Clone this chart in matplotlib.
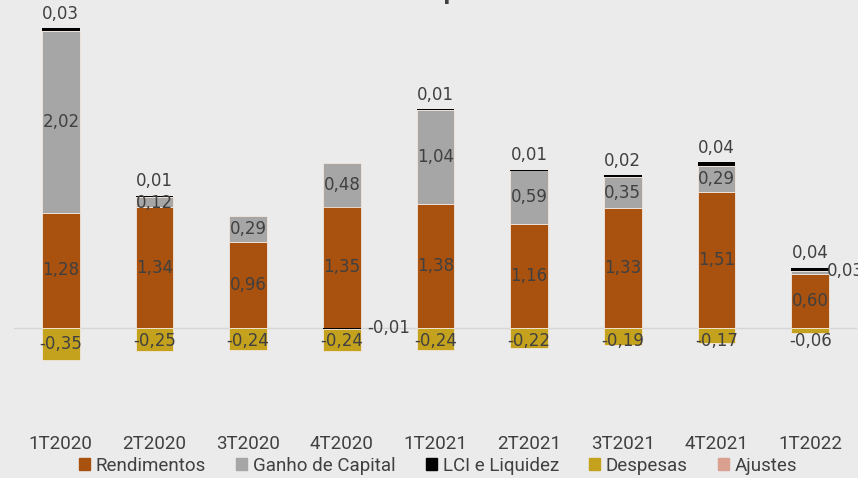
import matplotlib.pyplot as plt
from matplotlib.patches import Patch

quarters = ['1T2020', '2T2020', '3T2020', '4T2020', '1T2021', '2T2021', '3T2021', '4T2021', '1T2022']
rendimentos = [1.28, 1.34, 0.96, 1.35, 1.38, 1.16, 1.33, 1.51, 0.60]
ganho_capital = [2.02, 0.12, 0.29, 0.48, 1.04, 0.59, 0.35, 0.29, 0.03]
lci = [0.03, 0.01, 0.0, -0.01, 0.01, 0.01, 0.02, 0.04, 0.04]
despesas = [-0.35, -0.25, -0.24, -0.24, -0.24, -0.22, -0.19, -0.17, -0.06]
ajustes = [0, 0, 0, 0, 0, 0, 0, 0, 0]

c_rend = '#A9510F'
c_ganho = '#A6A6A6'
c_lci = '#000000'
c_desp = '#C4A21E'
c_ajus = '#D9A090'
bg = '#EBEBEB'
txt = '#404040'
plt.rcParams['font.family'] = 'DejaVu Sans'

fig = plt.figure(figsize=(8.58, 4.78), dpi=100, facecolor=bg)
ax = fig.add_axes([14/858, 53/478, 843/858, 415/478])
ax.set_facecolor(bg)

x = list(range(len(quarters)))
w = 0.405
ec = '#F2E6DC'

ax.bar(x, rendimentos, w, color=c_rend, edgecolor=ec, linewidth=0.6, zorder=2)
ax.bar(x, ganho_capital, w, bottom=rendimentos, color=c_ganho, edgecolor=ec, linewidth=0.6, zorder=2)
top2 = [r + g for r, g in zip(rendimentos, ganho_capital)]
lci_pos = [v if v > 0 else 0 for v in lci]
lci_neg = [v if v < 0 else 0 for v in lci]
ax.bar(x, lci_pos, w, bottom=top2, color=c_lci, linewidth=0, zorder=2)
ax.bar(x, lci_neg, w, color=c_lci, linewidth=0, zorder=3)
ax.bar(x, despesas, w, bottom=lci_neg, color=c_desp, edgecolor=ec, linewidth=0.6, zorder=2)
ax.bar(x, ajustes, w, color=c_ajus, linewidth=0, zorder=2)

ax.axhline(0, color='#D6D6D6', linewidth=1, zorder=1)

def fmt(v):
    return ('%.2f' % v).replace('.', ',')

fs = 12
for i in x:
    ax.text(i, rendimentos[i] / 2, fmt(rendimentos[i]), ha='center', va='center', fontsize=fs, color=txt, zorder=5)
    if i == 8:
        ax.text(i + w / 2 - 0.02, top2[i], fmt(ganho_capital[i]), ha='left', va='center', fontsize=fs, color=txt, zorder=5)
    elif i == 1:
        ax.text(i, top2[i] - 0.07, fmt(ganho_capital[i]), ha='center', va='center', fontsize=fs, color=txt, zorder=5)
    else:
        ax.text(i, rendimentos[i] + ganho_capital[i] / 2, fmt(ganho_capital[i]), ha='center', va='center', fontsize=fs, color=txt, zorder=5)
    if lci[i] > 0:
        ax.text(i, top2[i] + lci[i] + 0.06, fmt(lci[i]), ha='center', va='bottom', fontsize=fs, color=txt, zorder=5)
    elif lci[i] < 0:
        ax.text(i + w / 2 + 0.07, 0.0, fmt(lci[i]), ha='left', va='center', fontsize=fs, color=txt, zorder=5)
    dy = despesas[i] / 2 if despesas[i] < -0.1 else -0.09
    ax.text(i, min(dy, -0.14), fmt(despesas[i]), ha='center', va='center', fontsize=fs, color=txt, zorder=5)

ax.set_xlim(-0.5, 8.5)
ax.set_ylim(-(425 - 328) / 90, (328 - 10) / 90)
ax.set_xticks(x)
ax.set_xticklabels(quarters, fontsize=13.5, color=txt, family='Roboto')
ax.tick_params(axis='x', length=0, pad=7)
ax.set_yticks([])
for s in ax.spines.values():
    s.set_visible(False)

fig.text(0.5, 1 - 4/478, 'Resultado por cota', ha='center', va='bottom', fontsize=15, fontweight='bold', color=txt)

handles = [Patch(color=c_rend, label='Rendimentos'),
           Patch(color=c_ganho, label='Ganho de Capital'),
           Patch(color=c_lci, label='LCI e Liquidez'),
           Patch(color=c_desp, label='Despesas'),
           Patch(color=c_ajus, label='Ajustes')]
fig.legend(handles=handles, loc='center', bbox_to_anchor=(438/858, 1 - 466/478), ncol=5, frameon=False,
           prop={'family': 'Roboto', 'size': 13.5}, handlelength=0.6, handleheight=0.6,
           handletextpad=0.3, columnspacing=1.6, labelcolor=txt)

fig.savefig('out.png', dpi=100, facecolor=bg)
